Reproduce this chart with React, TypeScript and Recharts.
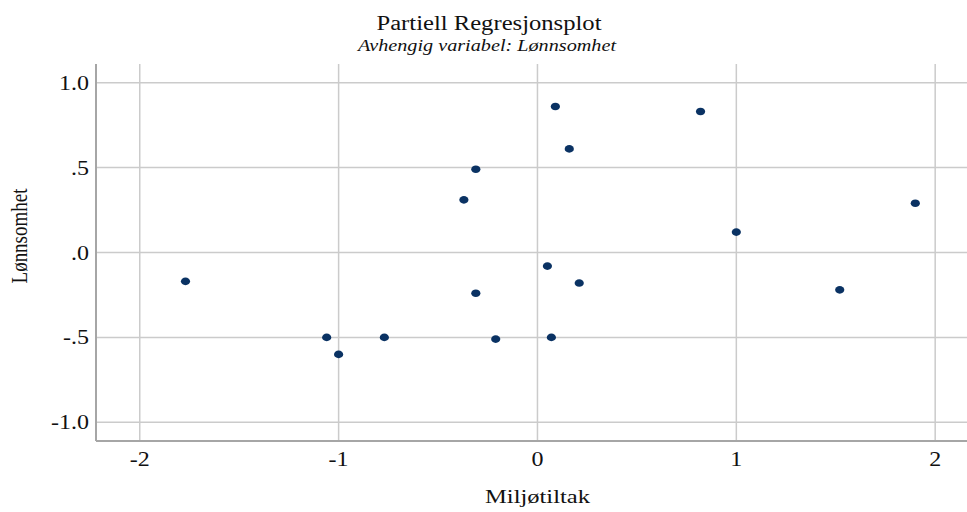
import React from "react";
import { ScatterChart, Scatter, XAxis, YAxis, CartesianGrid } from "recharts";

// Partial regression residuals: Miljøtiltak (x) vs Lønnsomhet (y)
const miljotiltak = [-1.77, -1.06, -1.0, -0.77, -0.37, -0.31, -0.31, -0.21, 0.05, 0.07, 0.09, 0.16, 0.21, 0.82, 1.0, 1.52, 1.9];
const lonnsomhet = [-0.17, -0.5, -0.6, -0.5, 0.31, 0.49, -0.24, -0.51, -0.08, -0.5, 0.86, 0.61, -0.18, 0.83, 0.12, -0.22, 0.29];

const xTicks = [-2, -1, 0, 1, 2];
const yTicks = [-1, -0.5, 0, 0.5, 1];
const yTickLabels = ["-1.0", "-.5", ".0", ".5", "1.0"];

const points = miljotiltak.map((x, i) => ({ x, y: lonnsomhet[i] }));

const SERIF = "'Liberation Serif', 'Times New Roman', serif";
const STRETCH = 1.2;

const YTick = (props: any) => {
  const { x, y, payload } = props;
  const idx = yTicks.indexOf(payload.value);
  const label = idx >= 0 ? yTickLabels[idx] : String(payload.value);
  return (
    <text
      transform={`translate(${x},${y + 7}) scale(${STRETCH},1)`}
      textAnchor="end"
      fontFamily={SERIF}
      fontSize={20}
      fill="#111"
    >
      {label}
    </text>
  );
};

const XTick = (props: any) => {
  const { x, y, payload } = props;
  return (
    <text
      transform={`translate(${x},${y + 17}) scale(${STRETCH},1)`}
      textAnchor="middle"
      fontFamily={SERIF}
      fontSize={20}
      fill="#111"
    >
      {String(payload.value)}
    </text>
  );
};

const Dot = (props: any) => {
  const { cx, cy } = props;
  return <ellipse cx={cx} cy={cy} rx={4.6} ry={3.8} fill="#0a3263" />;
};

export default function App() {
  return (
    <div style={{ position: "absolute", left: 0, top: 0, width: 967, height: 512, background: "#fff" }}>
      <ScatterChart width={967} height={512} margin={{ top: 64, right: 0, bottom: 0, left: 0 }}>
        <CartesianGrid stroke="#cbcbcb" strokeWidth={1.5} horizontalValues={yTicks} verticalValues={xTicks} />
        <XAxis
          type="number"
          dataKey="x"
          domain={[-2.22, 2.16]}
          allowDataOverflow
          ticks={xTicks}
          height={71}
          tickLine={false}
          axisLine={{ stroke: "#a6a6a6", strokeWidth: 2 }}
          tick={<XTick />}
          interval={0}
        />
        <YAxis
          type="number"
          dataKey="y"
          domain={[-1.11, 1.11]}
          allowDataOverflow
          ticks={yTicks}
          width={96}
          tickLine={false}
          tickMargin={1}
          axisLine={{ stroke: "#a6a6a6", strokeWidth: 2 }}
          tick={<YTick />}
          interval={0}
        />
        <Scatter data={points} shape={<Dot />} isAnimationActive={false} />
      </ScatterChart>
      <svg
        width={967}
        height={512}
        style={{ position: "absolute", left: 0, top: 0, pointerEvents: "none" }}
      >
        <text x={489} y={30} textAnchor="middle" fontFamily={SERIF} fontSize={20} fill="#111" textLength={225} lengthAdjust="spacingAndGlyphs">
          Partiell Regresjonsplot
        </text>
        <text x={487} y={51} textAnchor="middle" fontFamily={SERIF} fontStyle="italic" fontSize={16} fill="#111" textLength={258} lengthAdjust="spacingAndGlyphs">
          Avhengig variabel: Lønnsomhet
        </text>
        <text x={537.5} y={503} textAnchor="middle" fontFamily={SERIF} fontSize={19.5} fill="#111" textLength={105} lengthAdjust="spacingAndGlyphs">
          Miljøtiltak
        </text>
        <text
          transform="translate(27,236) rotate(-90) scale(1,1.2)"
          textAnchor="middle"
          fontFamily={SERIF}
          fontSize={19}
          fill="#111"
        >
          Lønnsomhet
        </text>
      </svg>
    </div>
  );
}
